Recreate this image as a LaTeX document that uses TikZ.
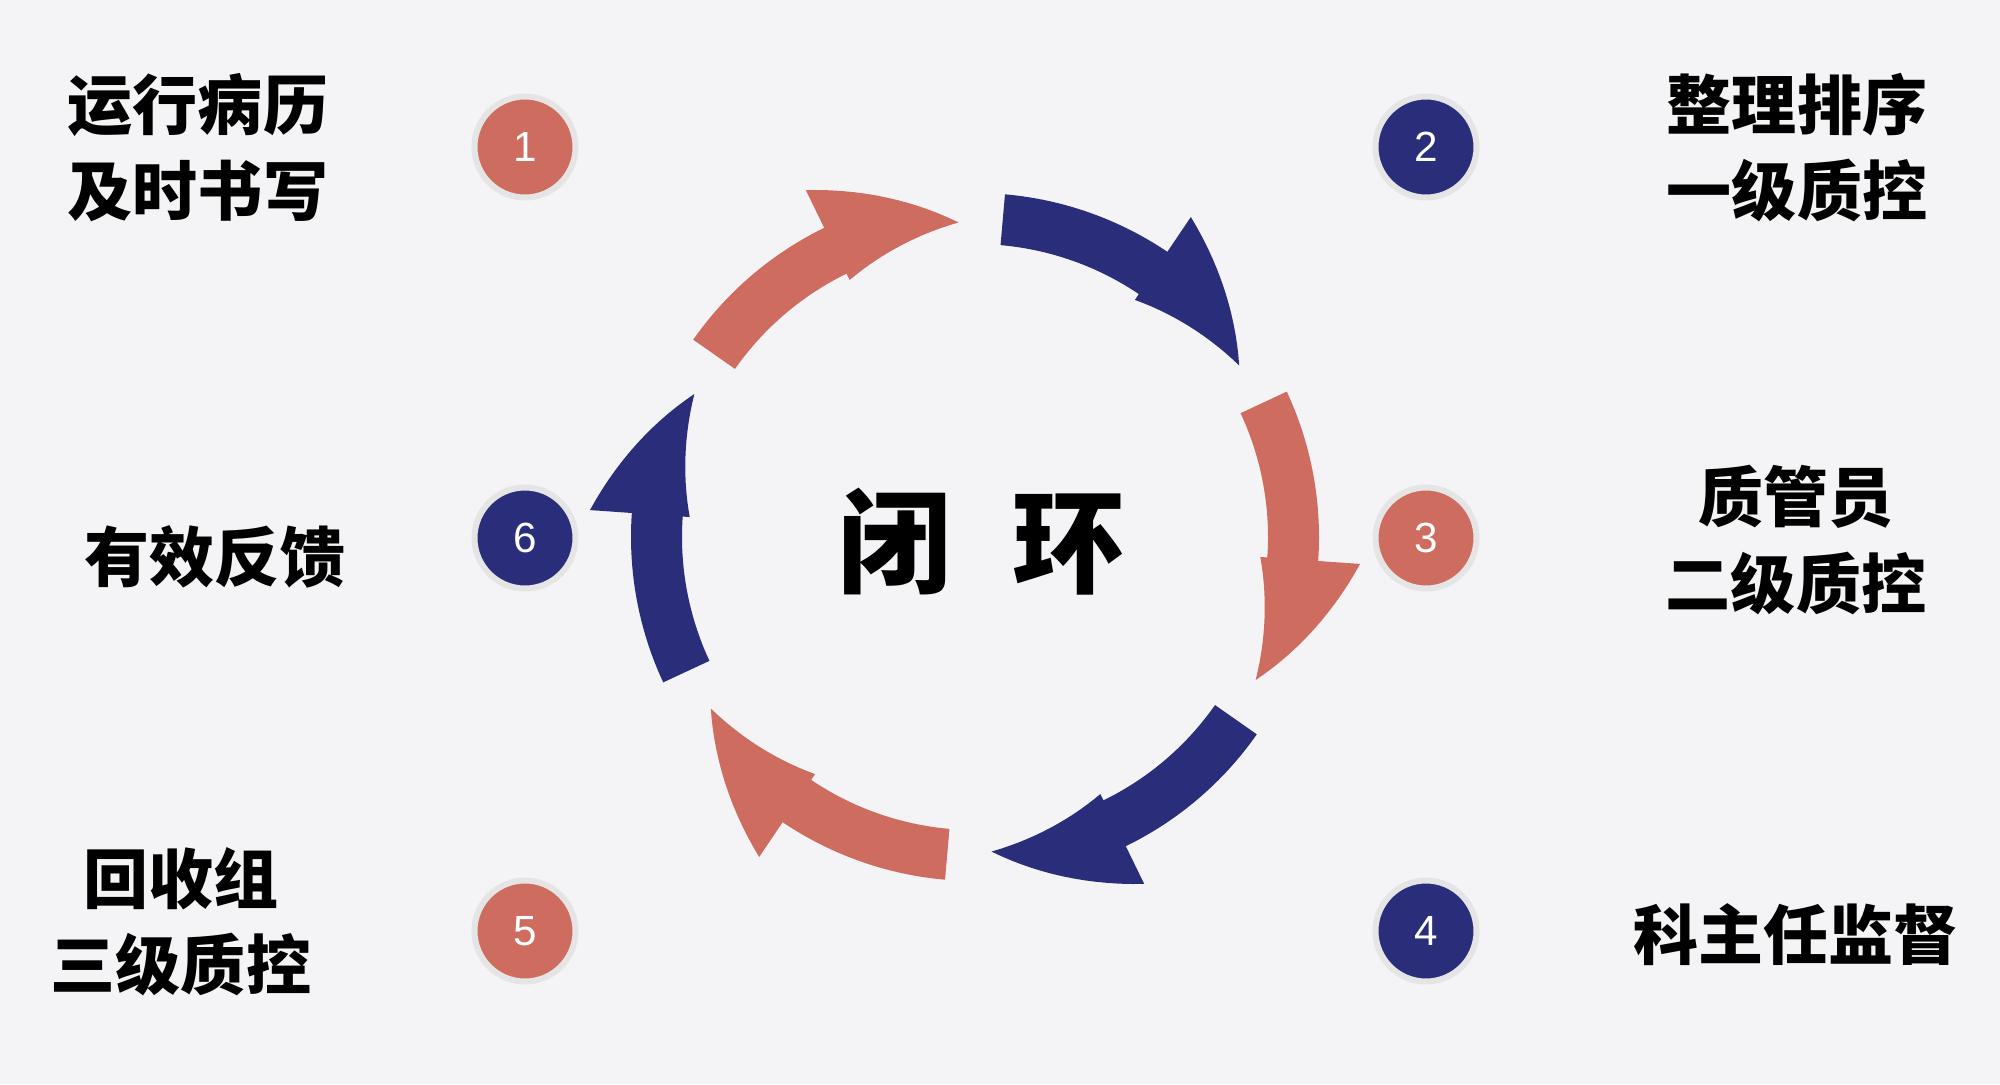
\documentclass[tikz,border=0pt]{standalone}
\usepackage{fontspec}
\newfontfamily\cjk{Noto Sans CJK SC}
\setsansfont{Liberation Sans}
\usetikzlibrary{positioning}
\definecolor{salm}{RGB}{206,108,96}
\definecolor{navy}{RGB}{42,46,122}
\definecolor{bgc}{RGB}{244,244,246}

\begin{document}
\begin{tikzpicture}[
  lbl/.style={font=\cjk\bfseries\fontsize{18.5}{24.5}\selectfont, align=center, inner sep=0pt},
  num/.style={circle, minimum size=1.01cm, inner sep=0pt, draw=black!10, line width=0.6mm, text=white, font=\sffamily\fontsize{12}{14}\selectfont},
  hub/.style={font=\cjk\bfseries\fontsize{32}{36}\selectfont, inner sep=0pt}
]
\fill[bgc] (0,0) rectangle (20,10.84);
\useasboundingbox (0,0) rectangle (20,10.84);
\begin{scope}[shift={(9.75,5.47)}]
\foreach \i/\c in {0/salm,1/navy,2/salm,3/navy,4/salm,5/navy}{
  \pgfmathsetmacro\ta{145-60*\i}
  \pgfmathsetmacro\tb{\ta-29}
  \pgfmathsetmacro\tc{\ta-52}
  \fill[\c] (\ta:3.44) arc[start angle=\ta, end angle=\tb, radius=3.44]
    -- plot[domain=0:1, samples=15] ({\tb+\x*(\tc-\tb)}:{3.86-0.71*\x})
    -- plot[domain=1:0, samples=15] ({\tb+\x*(\tc-\tb)}:{2.86+0.29*\x})
    -- (\tb:2.93) arc[start angle=\tb, end angle=\ta, radius=2.93] -- cycle;
}
\end{scope}
\node[hub] (loop) at (9.82,5.42) {闭\hspace{0.55em}环};
\node[num, fill=salm] (n1) at (5.25,9.37) {1};
\node[num, fill=navy] (n2) at (14.26,9.37) {2};
\node[num, fill=salm] (n3) at (14.26,5.46) {3};
\node[num, fill=navy] (n4) at (14.26,1.53) {4};
\node[num, fill=salm] (n5) at (5.25,1.53) {5};
\node[num, fill=navy] (n6) at (5.25,5.46) {6};
\node[lbl] (t1) at (1.98,9.36) {运行病历\\及时书写};
\node[lbl] (t2) at (17.97,9.36) {整理排序\\一级质控};
\node[lbl] (t3) at (17.96,5.44) {质管员\\二级质控};
\node[lbl] (t4) at (17.96,1.49) {科主任监督};
\node[lbl] (t5) at (1.81,1.62) {回收组\\三级质控};
\node[lbl] (t6) at (2.15,5.27) {有效反馈};
\end{tikzpicture}
\end{document}
